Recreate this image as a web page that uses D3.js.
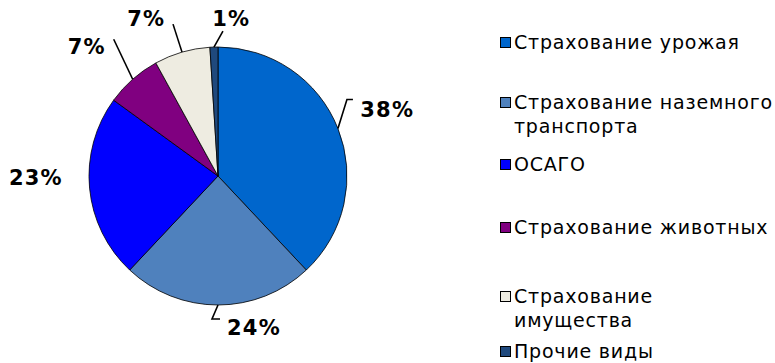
<!DOCTYPE html>
<html>
<head>
<meta charset="utf-8">
<script src="https://cdn.jsdelivr.net/npm/d3@7"></script>
<style>
  body { margin: 0; background: #fff; }
  svg { display: block; }
</style>
</head>
<body>
<script>
var width = 775;
var height = 363;

// data
var categories = ["Страхование урожая", "Страхование наземного транспорта", "ОСАГО",
  "Страхование животных", "Страхование имущества", "Прочие виды"];
var values = [38, 24, 23, 7, 7, 1];
var valueLabels = ["38%", "24%", "23%", "7%", "7%", "1%"];
var legendLines = [["Страхование урожая"], ["Страхование наземного", "транспорта"], ["ОСАГО"],
  ["Страхование животных"], ["Страхование", "имущества"], ["Прочие виды"]];

var colors = ["#0066cc", "#4f81bd", "#0000ff", "#800080", "#eeece1", "#1f497d"];

// label nudges and leader elbows (relative to slice edge), picked to match the picture
var labelNudge = [[0, 1], [36, -30], [-1, -15], [-11, 8], [-21, 18], [19, 25]];
var leaders = [
  [[9, -29], [15, -29]],
  [[-6, 14], [2, 14]],
  [],
  [[-19, -40]],
  [[-9, -28]],
  [[9, -16]]
];

var cx = 218, cy = 176, r = 129;

var svg = d3.select("body").append("svg")
    .attr("width", width)
    .attr("height", height);

var pie = d3.pie().sort(null).value(function(d) { return d; });
var arcs = pie(values);
var arc = d3.arc().innerRadius(0).outerRadius(r);

var g = svg.append("g").attr("transform", "translate(" + cx + "," + cy + ")");

g.selectAll(".slice")
  .data(arcs)
  .enter().append("path")
  .attr("class", "slice")
  .attr("d", arc)
  .attr("fill", function(d, i) { return colors[i]; })
  .attr("stroke", "#000")
  .attr("stroke-width", 0.8)
  .attr("stroke-linejoin", "round");

function polar(a, rad) {
  return [Math.sin(a) * rad, -Math.cos(a) * rad];
}

arcs.forEach(function(d, i) {
  var mid = (d.startAngle + d.endAngle) / 2;
  var edge = polar(mid, r);
  if (leaders[i].length) {
    var pts = [edge].concat(leaders[i].map(function(p) { return [edge[0] + p[0], edge[1] + p[1]]; }));
    g.append("path")
      .attr("d", d3.line()(pts))
      .attr("fill", "none")
      .attr("stroke", "#000")
      .attr("stroke-width", 1.6);
  }
  var lp = polar(mid, 182);
  g.append("text")
    .attr("x", lp[0] + labelNudge[i][0])
    .attr("y", lp[1] + labelNudge[i][1])
    .attr("text-anchor", "middle")
    .attr("dominant-baseline", "central")
    .style("font-family", "DejaVu Sans, Verdana, sans-serif")
    .style("font-weight", "bold")
    .style("font-size", "21px")
    .style("letter-spacing", "1.2px")
    .text(valueLabels[i]);
});

// legend
var legendY = [49, 109, 171, 234, 303, 358];
var lg = svg.append("g");
legendLines.forEach(function(lines, i) {
  var row = lg.append("g").attr("transform", "translate(0," + legendY[i] + ")");
  row.append("rect")
    .attr("x", 500.5).attr("y", -11.5)
    .attr("width", 10).attr("height", 10)
    .attr("fill", colors[i])
    .attr("stroke", "#000")
    .attr("stroke-width", 1);
  var t = row.append("text")
    .attr("x", 514)
    .style("font-family", "DejaVu Sans, Verdana, sans-serif")
    .style("font-size", "19px")
    .style("letter-spacing", "0.8px")
    .attr("fill", "#000");
  lines.forEach(function(s, k) {
    t.append("tspan").attr("x", 514).attr("dy", k ? 24 : 0).text(s);
  });
});
</script>
</body>
</html>
